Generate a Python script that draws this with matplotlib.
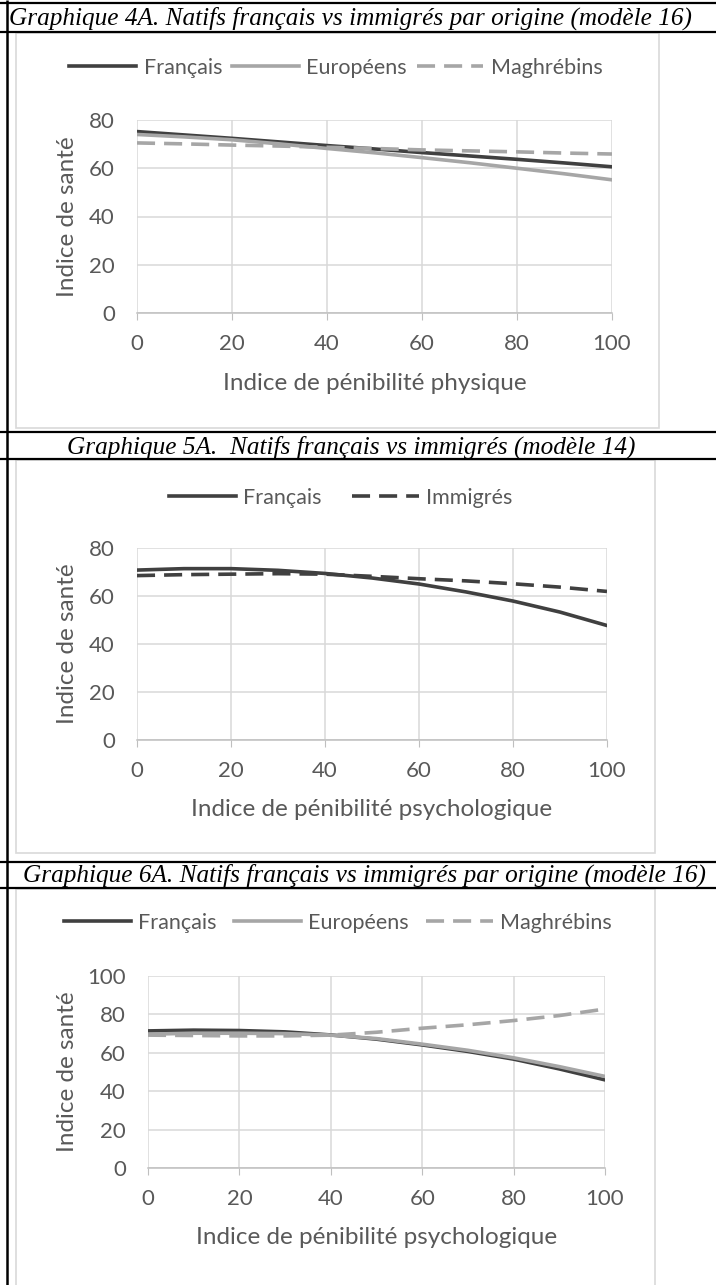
###Matplotlib
import matplotlib
matplotlib.use("Agg")
import matplotlib.pyplot as plt
from matplotlib.patches import Rectangle

###Data (health index vs hardship index)
xvals = [0, 10, 20, 30, 40, 50, 60, 70, 80, 90, 100]

#Graphique 4A (physical hardship, model 16)
fr_4a = [75.2, 73.8, 72.4, 70.9, 69.4, 68.0, 66.5, 65.1, 63.7, 62.2, 60.6]
eu_4a = [74.0, 73.0, 71.8, 70.1, 68.2, 66.4, 64.4, 62.3, 60.0, 57.7, 55.2]
ma_4a = [70.5, 70.1, 69.6, 69.2, 68.7, 68.2, 67.6, 67.2, 66.8, 66.3, 65.9]

#Graphique 5A (psychological hardship, model 14)
fr_5a = [70.8, 71.4, 71.4, 70.7, 69.4, 67.5, 65.0, 61.7, 57.9, 53.3, 47.7]
im_5a = [68.5, 68.9, 69.1, 69.3, 69.1, 68.2, 67.2, 66.3, 65.1, 63.7, 61.9]

#Graphique 6A (psychological hardship, model 16)
fr_6a = [71.4, 71.8, 71.6, 70.9, 69.3, 67.1, 64.1, 60.7, 56.7, 51.6, 45.9]
eu_6a = [69.7, 70.2, 70.2, 70.0, 69.2, 67.4, 64.5, 61.3, 57.4, 52.8, 47.7]
ma_6a = [69.2, 69.0, 68.8, 68.8, 69.2, 70.7, 72.8, 74.6, 76.8, 79.4, 82.8]

titles = ["Graphique 4A. Natifs français vs immigrés par origine (modèle 16)",
          "Graphique 5A.  Natifs français vs immigrés (modèle 14)",
          "Graphique 6A. Natifs français vs immigrés par origine (modèle 16)"]
xlabels = ["Indice de pénibilité physique",
           "Indice de pénibilité psychologique",
           "Indice de pénibilité psychologique"]
ylabel = "Indice de santé"

###Style
DARK = "#404040"
LIGHT = "#A6A6A6"
TXT = "#595959"
GRID = "#D9D9D9"
FONT = "Lato"
W, H = 716, 1285

plt.rcParams['font.family'] = [FONT, 'DejaVu Sans']


def fx(px):
	return px / W


def fy(py):
	return 1 - py / H


def add_chart(fig, l, t, r, b, ymax):
	ax = fig.add_axes([fx(l), fy(b), fx(r - l), (b - t) / H])
	ax.set_xlim(0, 100)
	ax.set_ylim(0, ymax)
	ax.set_xticks(range(0, 101, 20))
	ax.set_yticks(range(0, ymax + 1, 20))
	ax.set_yticks([0], minor=True)
	ax.grid(True, color=GRID, lw=1.1)
	ax.set_axisbelow(True)
	for s in ['top', 'right', 'left']:
		ax.spines[s].set_visible(False)
	ax.spines['bottom'].set_color("#BFBFBF")
	ax.spines['bottom'].set_linewidth(1.1)
	ax.tick_params(axis='x', length=5, color="#BFBFBF", pad=10, labelsize=16, labelcolor=TXT)
	ax.tick_params(axis='y', which='major', length=0, pad=16, labelsize=16, labelcolor=TXT)
	ax.tick_params(axis='y', which='minor', length=5, color="#BFBFBF")
	ax.patch.set_alpha(0)
	return ax


fig = plt.figure(figsize=(W / 100, H / 100), dpi=100)

###Background: table borders and chart boxes
bg = fig.add_axes([0, 0, 1, 1])
bg.set_xlim(0, W)
bg.set_ylim(H, 0)
bg.axis('off')
for yl in [3, 32, 432, 459, 862, 888]:
	bg.plot([0, W], [yl, yl], color='black', lw=1.6, solid_capstyle='butt')
bg.plot([7, 7], [0, H], color='black', lw=1.8, solid_capstyle='butt')
for (l, t, r, b) in [(16, 33, 659, 428), (16, 460, 655, 853), (16, 889, 655, H + 5)]:
	bg.add_patch(Rectangle((l, t), r - l, b - t, facecolor='white', edgecolor=GRID, lw=1.2))

###Titles
tfont = dict(family='Liberation Serif', style='italic', size=18.2, color='black')
fig.text(fx(9), fy(18), titles[0], ha='left', va='center', **tfont)
fig.text(fx(351), fy(447), titles[1], ha='center', va='center', **tfont)
fig.text(fx(364), fy(875), titles[2], ha='center', va='center', **tfont)

lw = 2.6
dash = (5, 2.5)
leg_kw = dict(loc='center', bbox_transform=fig.transFigure, frameon=False,
			fontsize=15.5, handlelength=3.1, handletextpad=0.35, labelcolor=TXT)

############### Graphique 4A ################
ax1 = add_chart(fig, 137, 120, 612, 313, 80)
ax1.plot(xvals, fr_4a, color=DARK, lw=lw, label="Français")
ax1.plot(xvals, eu_4a, color=LIGHT, lw=lw, label="Européens")
ax1.plot(xvals, ma_4a, color=LIGHT, lw=lw, ls=(0, dash), label="Maghrébins")
ax1.legend(bbox_to_anchor=(fx(336), fy(68)), ncol=3, columnspacing=0.45, **leg_kw)

############### Graphique 5A ################
ax2 = add_chart(fig, 137, 548, 607, 740, 80)
ax2.plot(xvals, fr_5a, color=DARK, lw=lw, label="Français")
ax2.plot(xvals, im_5a, color=DARK, lw=lw, ls=(0, dash), label="Immigrés")
ax2.legend(bbox_to_anchor=(fx(341), fy(498)), ncol=2, columnspacing=1.4, **leg_kw)

############### Graphique 6A ################
ax3 = add_chart(fig, 148, 976, 605, 1168, 100)
ax3.plot(xvals, fr_6a, color=DARK, lw=lw, label="Français")
ax3.plot(xvals, eu_6a, color=LIGHT, lw=lw, label="Européens")
ax3.plot(xvals, ma_6a, color=LIGHT, lw=lw, ls=(0, dash), label="Maghrébins")
ax3.legend(bbox_to_anchor=(fx(338), fy(923)), ncol=3, columnspacing=0.8, **leg_kw)

###Axis titles
for ax, xl, yc in [(ax1, xlabels[0], 383), (ax2, xlabels[1], 810), (ax3, xlabels[2], 1238)]:
	pos = ax.get_position()
	fig.text(pos.x0 + pos.width / 2, fy(yc), xl, ha='center', va='center', fontsize=17.5, color=TXT)
	fig.text(fx(68), pos.y0 + pos.height / 2, ylabel, ha='center', va='center',
			rotation=90, fontsize=17.5, color=TXT)

fig.savefig("out.png", dpi=100)
